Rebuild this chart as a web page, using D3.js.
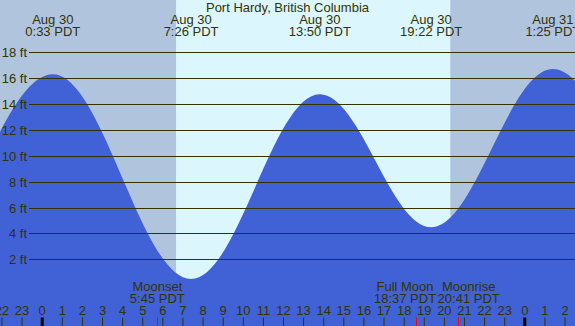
<!DOCTYPE html>
<html>
<head>
<meta charset="utf-8">
<script src="https://cdn.jsdelivr.net/npm/d3@7"></script>
<style>
  html, body { margin: 0; padding: 0; background: #fff; }
  svg { display: block; }
  text { font-family: "Liberation Sans", Arial, sans-serif; font-size: 13px; fill: #333300; }
</style>
</head>
<body>
<div id="chart"></div>
<script>
// ---------- data (hours since midnight Aug 30, PDT) ----------
const title = "Port Hardy, British Columbia";

// high / low tides (hours, feet); first and last are the tides just outside the view
const tideHours = [-5.9, 0.55, 7.43, 13.83, 19.37, 25.42, 32.6];
const tideFeet  = [3.8, 16.3, 0.48, 14.75, 4.47, 16.7, 0.7];

// high / low tide labels
const extremeHours = [0.55, 7.43, 13.83, 19.37, 25.42];
const extremeDates = ["Aug 30", "Aug 30", "Aug 30", "Aug 30", "Aug 31"];
const extremeTimes = ["0:33 PDT", "7:26 PDT", "13:50 PDT", "19:22 PDT", "1:25 PDT"];

// sun
const sunriseHour = 6.68;
const sunsetHour = 20.32;

// moon events
const moonHours = [5.75, 18.617, 20.683];
const moonNames = ["Moonset", "Full Moon", "Moonrise"];
const moonTimes = ["5:45 PDT", "18:37 PDT", "20:41 PDT"];

// axis ticks
const feetTicks = [2, 4, 6, 8, 10, 12, 14, 16, 18];
const hourTicks = d3.range(-2, 27);

// ---------- a curve with flat tangents at each high / low (tide-like half cosine) ----------
function TideCurve(context) { this._context = context; }
TideCurve.prototype = {
  areaStart() { this._line = 0; },
  areaEnd() { this._line = NaN; },
  lineStart() { this._point = 0; },
  lineEnd() {
    if (this._line || (this._line !== 0 && this._point === 1)) this._context.closePath();
    this._line = 1 - this._line;
  },
  point(x, y) {
    x = +x; y = +y;
    if (this._point === 0) {
      this._point = 1;
      this._line ? this._context.lineTo(x, y) : this._context.moveTo(x, y);
    } else {
      const k = 0.3634, dx = x - this._x0;
      this._context.bezierCurveTo(this._x0 + k * dx, this._y0, x - k * dx, y, x, y);
    }
    this._x0 = x; this._y0 = y;
  }
};
const curveTide = ctx => new TideCurve(ctx);

// ---------- layout ----------
const W = 575, H = 326;
const x = d3.scaleLinear().domain([0, 24]).range([41.7, 524.3]);
const y = d3.scaleLinear().domain([0, 18]).range([285.2, 52.3]);
const tMin = x.invert(0), tMax = x.invert(W);

const svg = d3.select("#chart").append("svg").attr("width", W).attr("height", H);

svg.append("defs").append("clipPath").attr("id", "clip")
  .append("rect").attr("x", 0).attr("y", 0).attr("width", W).attr("height", H);

const g = svg.append("g").attr("clip-path", "url(#clip)");

// day background
g.append("rect").attr("x", 0).attr("y", 0).attr("width", W).attr("height", H).attr("fill", "#dcf6fe");

// night bands
const nights = [[tMin - 1, sunriseHour], [sunsetHour, tMax + 1]];
g.selectAll("rect.night").data(nights).join("rect").attr("class", "night")
  .attr("x", d => x(d[0])).attr("y", 0)
  .attr("width", d => x(d[1]) - x(d[0])).attr("height", H)
  .attr("fill", "#b0c4de");

// tide fill
const tide = tideHours.map((t, i) => ({ t, h: tideFeet[i] }));
const area = d3.area()
  .x(d => x(d.t)).y0(H).y1(d => y(d.h))
  .curve(curveTide);
g.append("path").datum(tide).attr("d", area).attr("fill", "#4161d7");

// grid lines + labels
feetTicks.forEach(f => {
  const yy = Math.round(y(f)) + 0.5;
  g.append("line").attr("x1", 29).attr("x2", W).attr("y1", yy).attr("y2", yy)
    .attr("stroke", "#333300").attr("stroke-width", 1.2);
  svg.append("text").attr("x", 27).attr("y", yy + 4.5).attr("text-anchor", "end").text(f + " ft");
});

// title
svg.append("text").attr("x", 287.5).attr("y", 11.5).attr("text-anchor", "middle").text(title);

// high/low labels
extremeHours.forEach((t, i) => {
  svg.append("text").attr("x", x(t)).attr("y", 23.5).attr("text-anchor", "middle").text(extremeDates[i]);
  svg.append("text").attr("x", x(t)).attr("y", 35.5).attr("text-anchor", "middle").text(extremeTimes[i]);
});

// bottom hour axis
const axis = d3.axisTop(x).tickValues(hourTicks).tickSize(8.5).tickPadding(2.5)
  .tickFormat(h => ((h % 24) + 24) % 24);
const ax = svg.append("g").attr("transform", `translate(0,${H})`).call(axis);
ax.select(".domain").remove();
ax.selectAll(".tick line").attr("stroke", "#333300");
ax.selectAll(".tick text").attr("fill", "#333300")
  .style("font-family", '"Liberation Sans", Arial, sans-serif').style("font-size", "13px");
ax.selectAll(".tick").filter(h => ((h % 24) + 24) % 24 === 0).select("line")
  .attr("stroke", "#000").attr("stroke-width", 3);

// moon ticks
moonHours.forEach(t => {
  svg.append("line").attr("x1", Math.round(x(t)) + 0.5).attr("x2", Math.round(x(t)) + 0.5)
    .attr("y1", H - 8.5).attr("y2", H).attr("stroke", "#ff0000").attr("stroke-width", 1);
});

// moon labels with simple overlap avoidance
const moonG = svg.append("g");
const labels = moonHours.map((t, i) => {
  const gg = moonG.append("g");
  const a = gg.append("text").attr("y", 291.3).attr("text-anchor", "middle").text(moonNames[i]);
  const b = gg.append("text").attr("y", 303).attr("text-anchor", "middle").text(moonTimes[i]);
  const w = Math.max(a.node().getComputedTextLength(), b.node().getComputedTextLength());
  return { gg, cx: x(t), w };
});
for (let iter = 0; iter < 5; iter++) {
  for (let i = 1; i < labels.length; i++) {
    const A = labels[i - 1], B = labels[i];
    const need = (A.w + B.w) / 2 + 1.5;
    const d = B.cx - A.cx;
    if (d < need) { const s = (need - d) / 2; A.cx -= s; B.cx += s; }
  }
}
labels.forEach(l => l.gg.attr("transform", `translate(${l.cx},0)`));
</script>
</body>
</html>
